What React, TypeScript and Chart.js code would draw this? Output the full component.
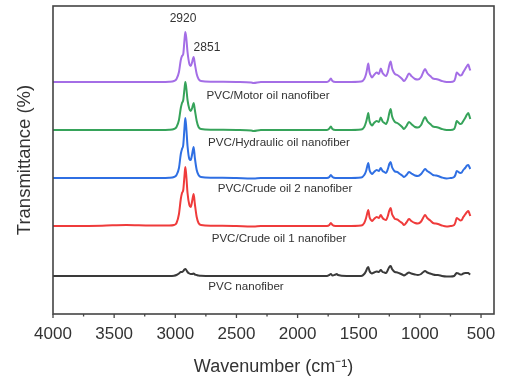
import React, { useEffect, useRef } from "react";
import { Chart, registerables } from "chart.js";

Chart.register(...registerables);

const wavenumbers = [
  4000, 3600, 3400, 3200, 3050, 3010, 2990, 2970, 2955, 2945,
  2935, 2925, 2918, 2910, 2900, 2885, 2874, 2862, 2850, 2840,
  2825, 2810, 2790, 2700, 2500, 2380, 2360, 2300, 2100, 1900,
  1760, 1740, 1728, 1715, 1690, 1680, 1670, 1600, 1480, 1455,
  1440, 1430, 1422, 1412, 1400, 1392, 1375, 1353, 1335, 1320,
  1305, 1290, 1277, 1262, 1250, 1239, 1228, 1215, 1204, 1185,
  1163, 1145, 1130, 1110, 1089, 1070, 1040, 1016, 990, 972,
  958, 940, 915, 893, 870, 852, 820, 781, 750, 720,
  710, 699, 685, 670, 658, 645, 630, 615, 604, 595, 588,
];

const motorOil = [
  232, 232, 232, 232, 232.3, 233, 235, 242, 254, 258,
  260, 274, 282, 276, 262, 250, 248, 252, 257, 250,
  240, 235, 233, 232.3, 232, 231.5, 231, 232, 232, 232,
  232, 233.5, 235.5, 233, 232, 232, 232, 232, 232.5, 235,
  240, 246, 250.5, 242, 238, 236.5, 239, 241.5, 240, 245.5,
  241, 239, 238, 242, 249, 252.5, 246, 242, 240, 239,
  237, 235, 233, 236, 240.5, 238, 235, 234.5, 237, 242,
  245, 241, 238, 235.5, 235, 234.5, 233, 232, 232, 233,
  236, 241.5, 240, 238.5, 239, 242, 245, 248, 249.5, 246, 243.5,
];

const hydraulicOil = [
  184, 184, 184, 184, 184.3, 185, 187, 194, 206, 211,
  214, 225, 232, 226, 214, 205, 203, 206, 211, 204,
  193, 187, 185, 184.3, 184, 183.5, 183, 184, 184, 184,
  184, 185.5, 187.5, 185, 184, 184, 184, 184, 184.5, 187,
  192, 197, 201, 193, 189.5, 188.5, 191, 193, 192, 196.5,
  192.5, 191, 190, 194, 201, 205, 198, 194, 192, 191,
  189, 187, 185, 188, 192, 190, 187, 186.5, 189, 194,
  197, 193, 190, 187.5, 187, 186.5, 185, 184, 184, 185,
  188, 193, 191.5, 190, 190.5, 193, 196, 199.5, 201, 198, 195,
];

const crudeOil2 = [
  136, 136, 136, 136, 136.3, 137, 139, 146, 160, 165,
  169, 186, 196, 186, 168, 155, 154, 160, 167, 156,
  144, 139, 137, 136.3, 136, 135.5, 135.5, 136, 136, 136,
  136, 137, 139, 137, 136, 136, 136, 136, 136.5, 139,
  143, 148, 151, 144, 141, 140, 142, 144, 143, 146,
  143, 142, 141, 145, 150, 152, 147, 144, 142.5, 142,
  140, 138.5, 137, 139, 142, 140.5, 138.5, 138, 140, 143,
  145, 143, 141, 139, 138.5, 138, 136.5, 135.5, 136, 137,
  139, 143, 142, 141, 141.5, 144, 146, 148.5, 149, 147, 145,
];

const crudeOil1 = [
  88, 88.3, 89, 88.5, 88.5, 89, 91, 100, 115, 121,
  124, 138, 147, 138, 121, 109, 107, 113, 120, 110,
  97, 91, 89, 88.3, 88, 87.5, 87.5, 88, 88, 88,
  88, 89, 91, 89, 88, 88, 88, 88, 88.5, 91,
  96, 101, 104, 97, 94, 93, 95, 97, 96, 99,
  96, 94.5, 94, 98, 103.5, 106, 100, 97, 95, 94.5,
  92.5, 91, 89, 91.5, 95, 93, 91, 90.5, 92.5, 96.5,
  99, 96, 93.5, 91, 90.5, 90, 88.5, 87.5, 88, 89,
  91.5, 96, 95, 93.5, 94, 97, 99.5, 102, 103, 100.5, 98,
];

const pvcOnly = [
  38, 38, 38, 38, 38, 38.3, 39, 40.5, 42, 42,
  43, 44.5, 45, 44, 42, 40.5, 40, 40, 40.5, 39.5,
  39, 38.5, 38.2, 38, 38, 38, 38, 38, 38, 38,
  38, 39, 40, 38.5, 39.5, 40, 39, 38, 38, 40,
  43, 46, 47, 43, 41, 40.5, 41.5, 42.5, 42, 44,
  42, 41.5, 41, 44, 47, 48, 45, 43, 42, 41.5,
  40.5, 39.5, 38.5, 40, 41.5, 40.5, 39.5, 39, 40, 42,
  43, 41.5, 40.5, 39.5, 39, 39, 38, 37.5, 37.5, 38,
  39.5, 41, 40.5, 39.5, 39.5, 40.5, 41, 41, 41, 40, 39.5,
];

const seriesNames = [
  "PVC/Motor oil nanofiber",
  "PVC/Hydraulic oil nanofiber",
  "PVC/Crude oil 2 nanofiber",
  "PVC/Crude oil 1 nanofiber",
  "PVC nanofiber",
];
const seriesValues = [motorOil, hydraulicOil, crudeOil2, crudeOil1, pvcOnly];
const seriesColors = ["#a46ee6", "#36a35a", "#2f6fe3", "#ef3b3b", "#3a3a3a"];

// text annotations (label, wavenumber, value)
const noteTexts = [
  "PVC/Motor oil nanofiber",
  "PVC/Hydraulic oil nanofiber",
  "PVC/Crude oil 2 nanofiber",
  "PVC/Crude oil 1 nanofiber",
  "PVC nanofiber",
  "2920",
  "2851",
];
const noteWn = [2242, 2152, 2103, 2152, 2422, 2937, 2741];
const noteVal = [218, 171, 125, 75, 27, 295, 266];
const noteSize = [11.6, 11.6, 11.6, 11.6, 11.6, 12, 12];

const xMajorTicks = [4000, 3500, 3000, 2500, 2000, 1500, 1000, 500];
const xMinorTicks = [3750, 3250, 2750, 2250, 1750, 1250, 750];

const FONT = "'Liberation Sans', Arial, sans-serif";

const framePlugin = {
  id: "frameAndNotes",
  afterDraw(chart: any) {
    const { ctx, chartArea } = chart;
    const xs = chart.scales.x;
    const ys = chart.scales.y;
    ctx.save();
    ctx.strokeStyle = "#444";
    ctx.lineWidth = 1.6;
    ctx.strokeRect(chartArea.left, chartArea.top, chartArea.right - chartArea.left, chartArea.bottom - chartArea.top);
    ctx.lineWidth = 1.3;
    for (const v of xMajorTicks) {
      const px = xs.getPixelForValue(v);
      ctx.beginPath();
      ctx.moveTo(px, chartArea.bottom);
      ctx.lineTo(px, chartArea.bottom + 4);
      ctx.stroke();
    }
    for (const v of xMinorTicks) {
      const px = xs.getPixelForValue(v);
      ctx.beginPath();
      ctx.moveTo(px, chartArea.bottom);
      ctx.lineTo(px, chartArea.bottom + 2.5);
      ctx.stroke();
    }
    ctx.fillStyle = "#333";
    ctx.textAlign = "center";
    ctx.textBaseline = "middle";
    noteTexts.forEach((t, i) => {
      ctx.font = `${noteSize[i]}px ${FONT}`;
      ctx.fillText(t, xs.getPixelForValue(noteWn[i]), ys.getPixelForValue(noteVal[i]));
    });
    ctx.restore();
  },
};

export default function App() {
  const canvasRef = useRef<HTMLCanvasElement>(null);

  useEffect(() => {
    const canvas = canvasRef.current;
    if (!canvas) return;
    const chart = new Chart(canvas, {
      type: "line",
      data: {
        datasets: seriesNames.map((name, i) => ({
          label: name,
          data: wavenumbers.map((w, j) => ({ x: w, y: seriesValues[i][j] })),
          borderColor: seriesColors[i],
          borderWidth: 2,
          pointRadius: 0,
          cubicInterpolationMode: "monotone" as const,
          fill: false,
        })),
      },
      options: {
        responsive: false,
        animation: false,
        events: [],
        layout: { padding: { left: 0, right: 13, top: 6, bottom: 0 } },
        plugins: { legend: { display: false }, tooltip: { enabled: false } },
        scales: {
          x: {
            type: "linear",
            reverse: true,
            min: 394,
            max: 4000,
            afterBuildTicks: (scale: any) => {
              scale.ticks = xMajorTicks.map((v) => ({ value: v }));
            },
            afterFit: (scale: any) => {
              scale.height = 64;
            },
            grid: { display: false, drawTicks: true, tickLength: 4 },
            border: { display: false },
            ticks: {
              autoSkip: false,
              maxRotation: 0,
              padding: 6,
              color: "#333",
              font: { family: FONT, size: 17 },
              callback: (v: any) => String(v),
            },
            title: {
              display: true,
              text: "Wavenumber (cm\u207B\u00B9)",
              color: "#333",
              font: { family: FONT, size: 18 },
              padding: { top: 3, bottom: 0 },
            },
          },
          y: {
            type: "linear",
            min: 0,
            max: 308,
            afterFit: (scale: any) => {
              scale.width = 53;
            },
            grid: { display: false },
            border: { display: false },
            ticks: { display: false },
            title: {
              display: true,
              text: "Transmittance (%)",
              color: "#333",
              font: { family: FONT, size: 18.5 },
              padding: { top: 14, bottom: 0 },
            },
          },
        },
      },
      plugins: [framePlugin],
    });
    return () => chart.destroy();
  }, []);

  return (
    <div style={{ position: "fixed", left: 0, top: 0, width: 507, height: 378, background: "#fff" }}>
      <canvas ref={canvasRef} width={507} height={378} style={{ width: 507, height: 378 }} />
    </div>
  );
}
